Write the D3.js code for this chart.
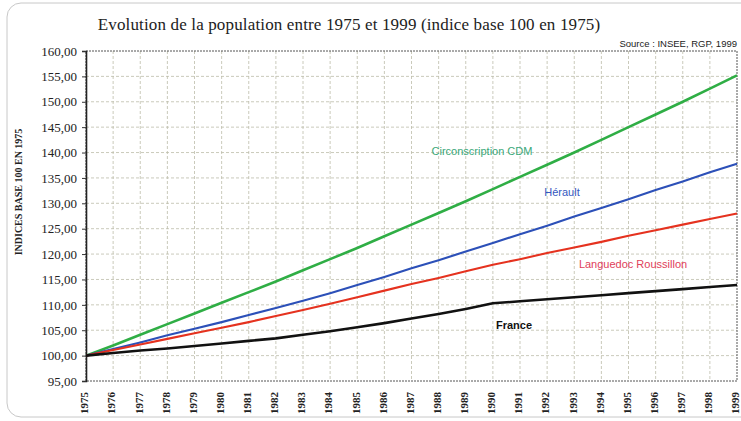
<!DOCTYPE html>
<html>
<head>
<meta charset="utf-8">
<script src="https://cdn.jsdelivr.net/npm/d3@7"></script>
<style>
    body { margin: 0; background: #fff; }
    svg { display: block; }
</style>
</head>
<body>
<svg id="chart" width="741" height="421"></svg>
<script>
// Data
// ----
const years = d3.range(1975, 2000);
const yTicks = [95, 100, 105, 110, 115, 120, 125, 130, 135, 140, 145, 150, 155, 160];

const circonscription = [100, 102.0, 104.1, 106.2, 108.3, 110.4, 112.5, 114.6, 116.8, 119.0, 121.2, 123.5, 125.8,
    128.1, 130.4, 132.8, 135.2, 137.6, 140.0, 142.5, 145.0, 147.5, 150.0, 152.6, 155.2];
const herault = [100, 101.3, 102.6, 104.0, 105.3, 106.6, 108.0, 109.4, 110.8, 112.3, 113.9, 115.5, 117.2,
    118.8, 120.5, 122.2, 123.9, 125.6, 127.4, 129.1, 130.8, 132.6, 134.3, 136.1, 137.8];
const languedoc = [100, 101.1, 102.2, 103.3, 104.4, 105.5, 106.6, 107.8, 109.0, 110.2, 111.5, 112.8, 114.1,
    115.3, 116.6, 117.9, 119.0, 120.2, 121.3, 122.4, 123.6, 124.7, 125.8, 126.9, 128.0];
const france = [100, 100.5, 101.0, 101.4, 101.9, 102.4, 102.9, 103.4, 104.1, 104.8, 105.6, 106.4, 107.3,
    108.2, 109.2, 110.3, 110.7, 111.1, 111.5, 111.9, 112.3, 112.7, 113.1, 113.5, 113.9];

const series = [
    { name: "Circonscription CDM", values: circonscription, color: "#2fae45", text: "#3aa87a", width: 2.6, lx: 482, ly: 155 },
    { name: "Hérault", values: herault, color: "#2c50b8", text: "#3458c0", width: 2.1, lx: 562, ly: 196 },
    { name: "Languedoc Roussillon", values: languedoc, color: "#e5321f", text: "#e0405a", width: 2.1, lx: 633, ly: 268 },
    { name: "France", values: france, color: "#111", text: "#111", width: 2.6, lx: 514, ly: 329, bold: true }
];

// Layout
// ------
const svg = d3.select("#chart");
const plot = { left: 86, right: 737, top: 51, bottom: 381 };

const x = d3.scaleLinear().domain([1975, 1999]).range([plot.left, plot.right]);
const y = d3.scaleLinear().domain([95, 160]).range([plot.bottom, plot.top]);
const fmt = d => d3.format(".2f")(d).replace(".", ",");

// Scanned page frame
svg.append("rect")
    .attr("x", 7).attr("y", 3).attr("width", 760).attr("height", 414)
    .attr("rx", 14)
    .attr("fill", "none").attr("stroke", "#c8c8c8").attr("stroke-width", 1);

// Title and source
svg.append("text")
    .attr("x", 349).attr("y", 30)
    .attr("text-anchor", "middle")
    .style("font", "17px 'Liberation Serif', serif")
    .style("letter-spacing", "0.15px")
    .attr("fill", "#222")
    .text("Evolution de la population entre 1975 et 1999 (indice base 100 en 1975)");

svg.append("text")
    .attr("x", 737).attr("y", 47)
    .attr("text-anchor", "end")
    .style("font", "9.5px 'Liberation Sans', Arial, sans-serif")
    .attr("fill", "#222")
    .text("Source : INSEE, RGP, 1999");

// Grid
// ----
const grid = svg.append("g").attr("stroke", "#bdbdaa").attr("stroke-width", 0.8)
    .attr("stroke-dasharray", "3,2");

grid.selectAll(".hgrid").data(yTicks.slice(1, -1)).join("line")
    .attr("x1", plot.left).attr("x2", plot.right)
    .attr("y1", d => y(d)).attr("y2", d => y(d));

grid.selectAll(".vgrid").data(years.slice(1, -1)).join("line")
    .attr("x1", d => x(d)).attr("x2", d => x(d))
    .attr("y1", plot.top).attr("y2", plot.bottom);

// Frame: dotted top / right / bottom
svg.append("rect")
    .attr("x", plot.left).attr("y", plot.top)
    .attr("width", plot.right - plot.left).attr("height", plot.bottom - plot.top)
    .attr("fill", "none").attr("stroke", "#555").attr("stroke-width", 1)
    .attr("stroke-dasharray", "2,1");

// Axes
// ----
const yAxis = svg.append("g")
    .attr("transform", `translate(${plot.left},0)`)
    .call(d3.axisLeft(y).tickValues(yTicks).tickFormat(fmt).tickSize(4).tickPadding(5));
yAxis.select(".domain").attr("stroke", "#222").attr("stroke-width", 1.6);
yAxis.selectAll(".tick line").attr("stroke", "#333");
yAxis.selectAll("text")
    .style("font", "13px 'Liberation Serif', serif")
    .attr("fill", "#222");

const xAxis = svg.append("g")
    .attr("transform", `translate(0,${plot.bottom})`)
    .call(d3.axisBottom(x).tickValues(years).tickFormat(d3.format("d")).tickSize(0));
xAxis.select(".domain").remove();
xAxis.selectAll("text")
    .attr("transform", "rotate(-90)")
    .attr("x", -11).attr("y", -2).attr("dy", "0.35em")
    .attr("text-anchor", "end")
    .style("font", "bold 11px 'Liberation Serif', serif")
    .attr("fill", "#222");

svg.append("text")
    .attr("transform", "translate(22,192) rotate(-90)")
    .attr("text-anchor", "middle")
    .style("font", "bold 10px 'Liberation Serif', serif")
    .attr("fill", "#222")
    .text("INDICES BASE 100 EN 1975");

// Lines
// -----
const line = d3.line()
    .x((d, i) => x(years[i]))
    .y(d => y(d));

series.forEach(s => {
    svg.append("path")
        .datum(s.values)
        .attr("fill", "none")
        .attr("stroke", s.color)
        .attr("stroke-width", s.width)
        .attr("stroke-linejoin", "round")
        .attr("d", line);

    svg.append("text")
        .attr("x", s.lx).attr("y", s.ly)
        .attr("text-anchor", "middle")
        .style("font", (s.bold ? "bold " : "") + "11px 'Liberation Sans', Arial, sans-serif")
        .attr("fill", s.text)
        .text(s.name);
});
</script>
</body>
</html>
